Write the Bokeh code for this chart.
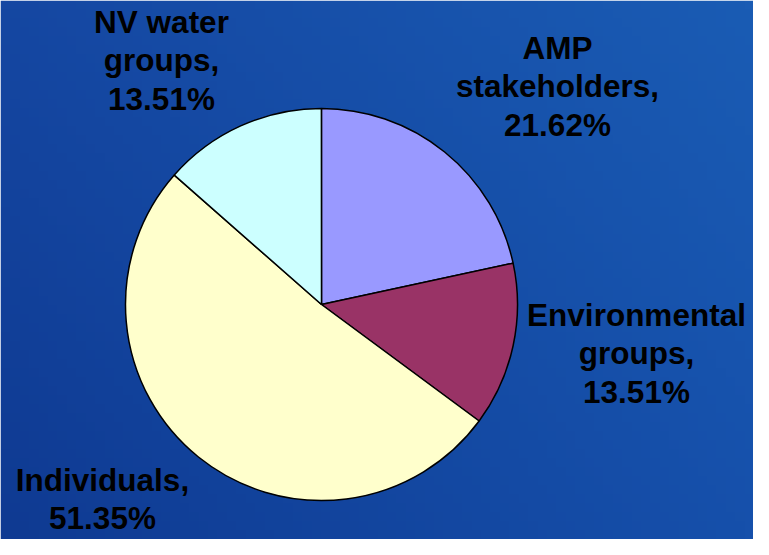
import numpy as np
from bokeh.plotting import figure
from bokeh.models import ColumnDataSource, Range1d
from bokeh.core.properties import value
from bokeh.embed import file_html
from bokeh.resources import INLINE

# ---- data ----
categories = ["AMP\nstakeholders,", "Environmental\ngroups,", "Individuals,", "NV water\ngroups,"]
percents = [21.62, 13.51, 51.35, 13.51]
colors = ["#9999FF", "#993366", "#FFFFCC", "#CCFFFF"]

# ---- layout constants ----
W, H = 753, 539
CX, CY, R = 321, 235, 196
label_x = [557, 636, 102, 161]
label_top_baseline = [492, 225, 60, 518]
LINE_STEP = 38.5

p = figure(width=W, height=H, output_backend="svg", toolbar_location=None,
           x_range=Range1d(0, W), y_range=Range1d(0, H), min_border=0)
p.axis.visible = False
p.grid.visible = False
p.outline_line_color = None

# background gradient (decoration)
tl = np.array([21, 71, 162]); tr = np.array([26, 92, 180])
bl = np.array([15, 58, 146]); br = np.array([22, 80, 171])
ny, nx = 60, 80
u = np.linspace(0, 1, nx)[None, :, None]
v = np.linspace(0, 1, ny)[:, None, None]  # 0 = bottom, 1 = top
col = (bl * (1 - u) * (1 - v) + br * u * (1 - v) + tl * (1 - u) * v + tr * u * v)
img = np.empty((ny, nx), dtype=np.uint32)
view = img.view(dtype=np.uint8).reshape((ny, nx, 4))
view[:, :, 0:3] = col.astype(np.uint8)
view[:, :, 3] = 255
p.image_rgba(image=[img], x=0, y=0, dw=W, dh=H)

# pie
fr = np.array(percents) / 100.0
cum = np.concatenate([[0], np.cumsum(fr)])
start = np.pi / 2 - 2 * np.pi * cum[:-1]
end = np.pi / 2 - 2 * np.pi * cum[1:]
src = ColumnDataSource(dict(start=start, end=end, color=colors))
p.wedge(x=CX, y=CY, radius=R, start_angle="start", end_angle="end",
        direction="clock", fill_color="color", line_color="black",
        line_width=1.5, source=src)

# labels, one line per text entry
xs, ys, ts = [], [], []
for c, pv, lx, ly in zip(categories, percents, label_x, label_top_baseline):
    lines = c.split("\n") + [f"{pv:.2f}%"]
    for i, line in enumerate(lines):
        xs.append(lx)
        ys.append(ly - i * LINE_STEP)
        ts.append(line)
lsrc = ColumnDataSource(dict(x=xs, y=ys, t=ts))
p.text(x="x", y="y", text="t", source=lsrc, text_align="center", text_baseline="alphabetic",
       text_font=value("Liberation Sans"), text_font_style="bold", text_font_size="31.5px",
       text_color="black")

open("out.html", "w").write(file_html(p, INLINE))
